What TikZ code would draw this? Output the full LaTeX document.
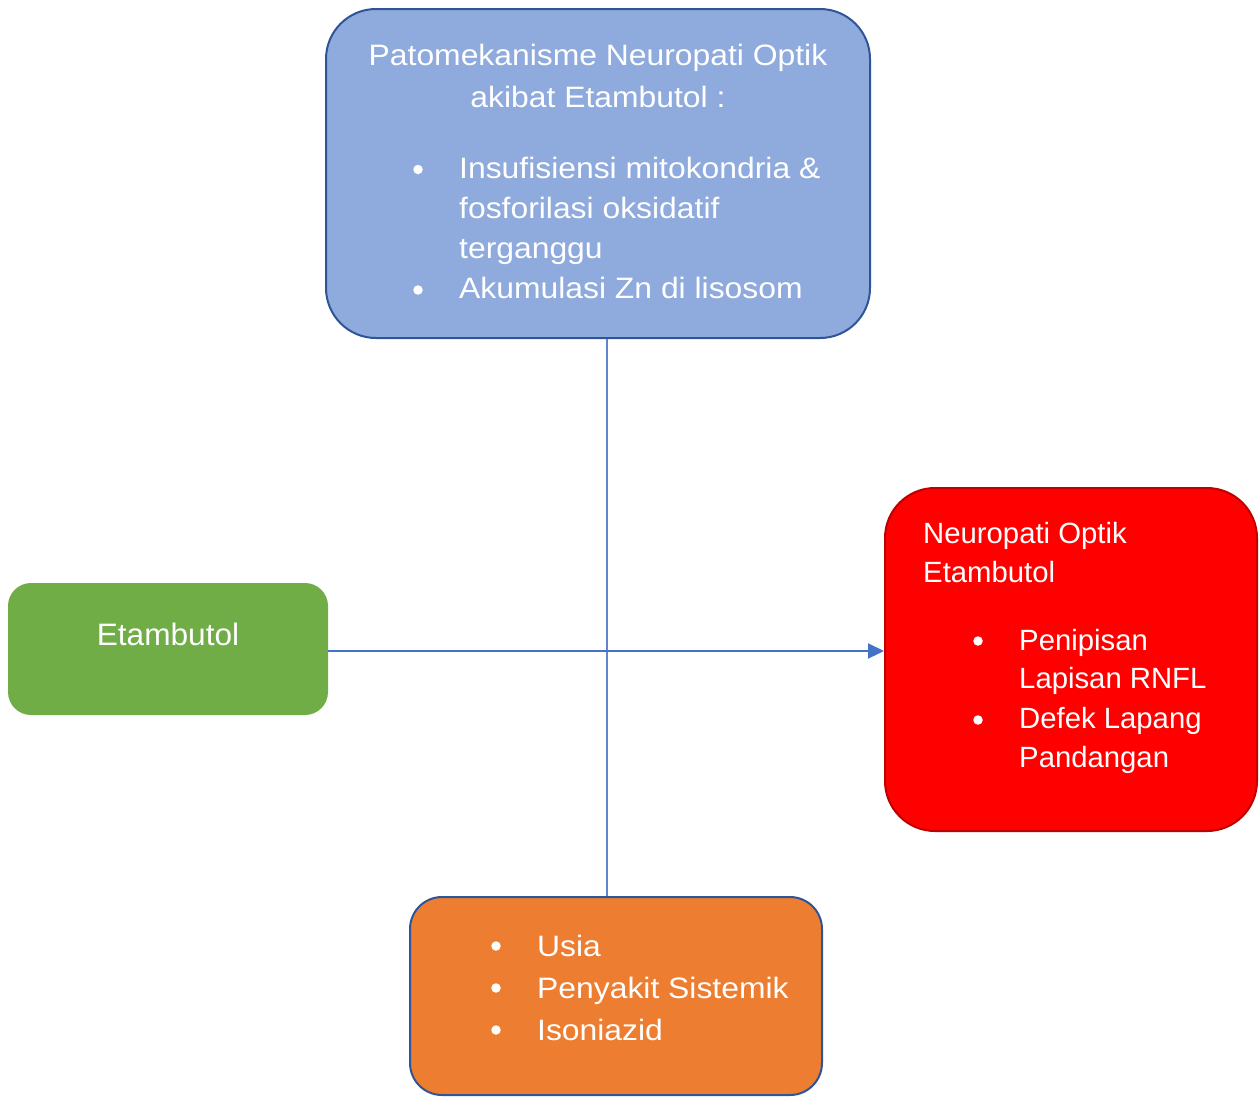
\documentclass[tikz,border=0pt]{standalone}
\usepackage{fontspec}
\setmainfont{Liberation Sans}
\newfontfamily\widesans[FakeStretch=1.08]{Liberation Sans}
\newfontfamily\midsans[FakeStretch=1.02]{Liberation Sans}
\usetikzlibrary{arrows.meta}
\definecolor{boxblue}{HTML}{8FAADC}
\definecolor{darkblue}{HTML}{2F5597}
\definecolor{lineblue}{HTML}{4472C4}
\definecolor{boxgreen}{HTML}{70AD47}
\definecolor{boxred}{HTML}{FF0000}
\definecolor{darkred}{HTML}{C00000}
\definecolor{boxorange}{HTML}{ED7D31}
\begin{document}
\begin{tikzpicture}[x=1pt,y=-1pt,
  box/.style={rectangle,inner sep=0pt,line width=2pt},
  toptxt/.style={text=white,inner sep=0pt,font=\widesans\fontsize{29.5}{36}\selectfont},
  redtxt/.style={text=white,inner sep=0pt,font=\fontsize{29.3}{36}\selectfont},
  grntxt/.style={text=white,inner sep=0pt,font=\midsans\fontsize{31}{36}\selectfont},
  bul/.style={circle,fill=white,inner sep=0pt,minimum size=9.5pt}]
\useasboundingbox (0,0) rectangle (1259,1096);
% boxes
\node[box,draw=darkblue,fill=boxblue,rounded corners=50pt,minimum width=544pt,minimum height=329pt] (top) at (598,173.5) {};
\node[box,draw=boxgreen,fill=boxgreen,rounded corners=22pt,minimum width=318pt,minimum height=130pt] (grn) at (168,649) {};
\node[box,draw=darkred,fill=boxred,rounded corners=50pt,minimum width=372pt,minimum height=343pt] (red) at (1071,659.5) {};
\node[box,draw=darkblue,fill=boxorange,rounded corners=32pt,minimum width=412pt,minimum height=198pt] (bot) at (616,996) {};
% connectors
\coordinate (vx) at (607,0);
\coordinate (hy) at (0,651);
\draw[lineblue!85!white,line width=1.2pt] (vx |- top.south) -- (vx |- bot.north);
\draw[lineblue,line width=2.2pt,-{Triangle[length=16pt,width=15pt]}] (hy -| grn.east) -- (hy -| red.west);
% top text
\node[toptxt,anchor=base] (t1) at (598,65) {Patomekanisme Neuropati Optik};
\node[toptxt,anchor=base] (t2) at (598,107) {akibat Etambutol :};
\node[bul] (tb1) at (418,169.5) {};
\node[toptxt,anchor=base west] (t3) at (459,178) {Insufisiensi mitokondria \&};
\node[toptxt,anchor=base west] (t4) at (459,218) {fosforilasi oksidatif};
\node[toptxt,anchor=base west] (t5) at (459,258) {terganggu};
\node[bul] (tb2) at (418,290) {};
\node[toptxt,anchor=base west] (t6) at (459,298) {Akumulasi Zn di lisosom};
% green text
\node[grntxt,anchor=base] (g1) at (168,645) {Etambutol};
% red text
\node[redtxt,anchor=base west] (r1) at (923,543) {Neuropati Optik};
\node[redtxt,anchor=base west] (r2) at (923,582) {Etambutol};
\node[bul] (rb1) at (978,641) {};
\node[redtxt,anchor=base west] (r3) at (1019,650) {Penipisan};
\node[redtxt,anchor=base west] (r4) at (1019,688) {Lapisan RNFL};
\node[bul] (rb2) at (978,720) {};
\node[redtxt,anchor=base west] (r5) at (1019,728) {Defek Lapang};
\node[redtxt,anchor=base west] (r6) at (1019,767) {Pandangan};
% orange text
\node[bul] (ob1) at (496,946) {};
\node[toptxt,anchor=base west] (o1) at (537,956) {Usia};
\node[bul] (ob2) at (496,988) {};
\node[toptxt,anchor=base west] (o2) at (537,998) {Penyakit Sistemik};
\node[bul] (ob3) at (496,1030) {};
\node[toptxt,anchor=base west] (o3) at (537,1040) {Isoniazid};
\end{tikzpicture}
\end{document}
